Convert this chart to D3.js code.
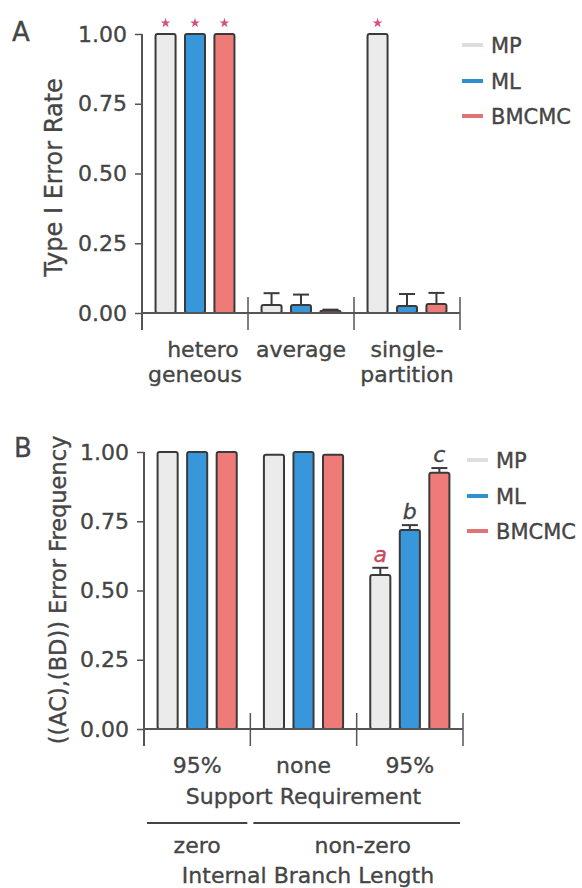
<!DOCTYPE html>
<html>
<head>
<meta charset="utf-8">
<script src="https://cdn.jsdelivr.net/npm/d3@7"></script>
<style>
  body { margin: 0; background: #fff; }
  svg text { font-family: "DejaVu Sans", sans-serif; fill: #454545; stroke: #454545; stroke-width: 0.35px; }
</style>
</head>
<body>
<svg id="chart" width="582" height="888"></svg>
<script>
// ---- data ----
const methods = ["MP", "ML", "BMCMC"];
const methodColors = ["#ebebeb", "#3797da", "#ef7b78"];
const legendColors = ["#dedede", "#2f8fd0", "#e07474"];

// panel A: Type I error rate
const groupsA = ["heterogeneous", "average", "single-partition"];
const labelsA = [["hetero", "geneous"], ["average"], ["single-", "partition"]];
const valuesA = {
  MP:    [1.00, 0.029, 1.00],
  ML:    [1.00, 0.029, 0.025],
  BMCMC: [1.00, 0.008, 0.032]
};
const errorsA = {
  MP:    [null, 0.042, null],
  ML:    [null, 0.037, 0.043],
  BMCMC: [null, 0.004, 0.040]
};
const starsA = [["heterogeneous", "MP"], ["heterogeneous", "ML"], ["heterogeneous", "BMCMC"], ["single-partition", "MP"]];

// panel B: ((AC),(BD)) error frequency
const groupsB = ["zero-95", "nonzero-none", "nonzero-95"];
const labelsB = ["95%", "none", "95%"];
const valuesB = {
  MP:    [1.00, 0.99, 0.556],
  ML:    [1.00, 1.00, 0.718],
  BMCMC: [1.00, 0.99, 0.925]
};
const errorsB = {
  MP:    [null, null, 0.026],
  ML:    [null, null, 0.018],
  BMCMC: [null, null, 0.017]
};
const lettersB = [["nonzero-95", "MP", "a"], ["nonzero-95", "ML", "b"], ["nonzero-95", "BMCMC", "c"]];
const yTicks = [0, 0.25, 0.5, 0.75, 1];

const svg = d3.select("#chart");
const color = d3.scaleOrdinal(methods, methodColors);
const legendColor = d3.scaleOrdinal(methods, legendColors);

function drawPanel(cfg) {
  const g = svg.append("g");
  const y = d3.scaleLinear().domain([0, 1]).range([cfg.bottom, cfg.top]);
  const x = d3.scaleBand().domain(cfg.groups).range([cfg.left, cfg.right]);
  const xInner = d3.scaleBand().domain(methods).range([0, x.bandwidth()])
    .paddingInner(0.32).paddingOuter(0.46);

  // y axis
  const yAxis = g.append("g")
    .attr("transform", `translate(${cfg.left},0)`)
    .call(d3.axisLeft(y).tickValues(yTicks).tickFormat(d3.format(".2f")).tickSize(7).tickPadding(8));
  yAxis.select(".domain").remove();
  yAxis.selectAll(".tick line").attr("stroke", "#555").attr("stroke-width", 1.5);
  yAxis.selectAll(".tick text").style("font-size", "22px").attr("fill", "#454545");
  g.append("line")
    .attr("x1", cfg.left).attr("x2", cfg.left)
    .attr("y1", y(1)).attr("y2", cfg.bottom + 17)
    .attr("stroke", "#555").attr("stroke-width", 2);

  // bars
  const rows = [];
  cfg.groups.forEach((grp, i) => methods.forEach(m => {
    rows.push({ grp, m, v: cfg.values[m][i], e: cfg.errors[m][i] });
  }));
  const barX = d => x(d.grp) + xInner(d.m);

  // error bars (drawn behind bars)
  const errRows = rows.filter(d => d.e != null);
  g.selectAll(".err-stem").data(errRows).join("line")
    .attr("x1", d => barX(d) + xInner.bandwidth() / 2)
    .attr("x2", d => barX(d) + xInner.bandwidth() / 2)
    .attr("y1", d => y(d.v)).attr("y2", d => y(d.v + d.e))
    .attr("stroke", "#3a3a3a").attr("stroke-width", 2);
  g.selectAll(".err-cap").data(errRows).join("line")
    .attr("x1", d => barX(d) + xInner.bandwidth() / 2 - 8)
    .attr("x2", d => barX(d) + xInner.bandwidth() / 2 + 8)
    .attr("y1", d => y(d.v + d.e)).attr("y2", d => y(d.v + d.e))
    .attr("stroke", "#3a3a3a").attr("stroke-width", 2);

  g.selectAll(".bar").data(rows).join("rect")
    .attr("x", barX)
    .attr("y", d => y(d.v))
    .attr("width", xInner.bandwidth())
    .attr("height", d => Math.max(0, y(0) - y(d.v)))
    .attr("rx", 2)
    .attr("fill", d => color(d.m))
    .attr("stroke", "#3a3a3a").attr("stroke-width", 2);

  // x baseline and group separators
  g.append("line")
    .attr("x1", cfg.left).attr("x2", cfg.right)
    .attr("y1", cfg.bottom).attr("y2", cfg.bottom)
    .attr("stroke", "#555").attr("stroke-width", 2);
  const seps = cfg.groups.slice(1).map(d => x(d)).concat([cfg.right]);
  g.selectAll(".sep").data(seps).join("line")
    .attr("x1", d => d).attr("x2", d => d)
    .attr("y1", cfg.bottom - 16).attr("y2", cfg.bottom + 17)
    .attr("stroke", "#555").attr("stroke-width", 1.5);

  // y label
  g.append("text")
    .attr("transform", `translate(${cfg.ylabelX},${(cfg.ylabelTop + cfg.ylabelBottom) / 2}) rotate(-90)`)
    .attr("text-anchor", "middle")
    .style("font-size", cfg.ylabelSize + "px")
    .text(cfg.ylabel);

  // panel letter
  g.append("text")
    .attr("x", cfg.letterX).attr("y", cfg.letterY)
    .style("font-size", "26px")
    .text(cfg.letter);

  // legend
  const leg = g.selectAll(".legend").data(methods).join("g")
    .attr("transform", (d, i) => `translate(${cfg.legendX},${cfg.legendY[i]})`);
  leg.append("line")
    .attr("x1", 0).attr("x2", 21)
    .attr("stroke", d => legendColor(d)).attr("stroke-width", 4);
  leg.append("text")
    .attr("x", 29).attr("dy", "0.36em")
    .style("font-size", "21px")
    .text(d => d);

  return { g, x, xInner, y };
}

// ---- panel A ----
const A = drawPanel({
  groups: groupsA, values: valuesA, errors: errorsA,
  left: 142, right: 460, top: 34, bottom: 313,
  ylabel: "Type I Error Rate", ylabelX: 62, ylabelTop: 75, ylabelBottom: 280, ylabelSize: 24,
  letter: "A", letterX: 12, letterY: 41,
  legendX: 462, legendY: [45, 81, 116]
});

A.g.selectAll(".star").data(starsA).join("path")
  .attr("d", d3.symbol(d3.symbolStar, 30))
  .attr("transform", d => `translate(${A.x(d[0]) + A.xInner(d[1]) + A.xInner.bandwidth() / 2},${A.y(1) - 11})`)
  .attr("fill", "#d4507a");

A.g.selectAll(".xlab").data(groupsA).join("text")
  .attr("text-anchor", "middle")
  .style("font-size", "22px")
  .each(function (d, i) {
    const t = d3.select(this);
    labelsA[i].forEach((line, j) => {
      t.append("tspan")
        .attr("x", A.x(d) + A.x.bandwidth() / 2 + (i === 0 && j === 0 ? 8 : 0))
        .attr("y", 357 + j * 25)
        .text(line);
    });
  });

// ---- panel B ----
const B = drawPanel({
  groups: groupsB, values: valuesB, errors: errorsB,
  left: 144, right: 463, top: 452, bottom: 729,
  ylabel: "((AC),(BD)) Error Frequency", ylabelX: 66, ylabelTop: 428, ylabelBottom: 752, ylabelSize: 22.5,
  letter: "B", letterX: 14, letterY: 457,
  legendX: 467, legendY: [460, 496, 531]
});

B.g.selectAll(".sig").data(lettersB).join("text")
  .attr("x", d => B.x(d[0]) + B.xInner(d[1]) + B.xInner.bandwidth() / 2)
  .attr("y", d => B.y(valuesB[d[1]][groupsB.indexOf(d[0])] + errorsB[d[1]][groupsB.indexOf(d[0])]) - 6)
  .attr("text-anchor", "middle")
  .style("font-size", "22px")
  .style("font-style", "italic")
  .style("fill", d => d[2] === "a" ? "#c8485e" : "#454545")
  .style("stroke", d => d[2] === "a" ? "#c8485e" : "#454545")
  .text(d => d[2]);

B.g.selectAll(".xlab").data(groupsB).join("text")
  .attr("x", d => B.x(d) + B.x.bandwidth() / 2)
  .attr("y", 773)
  .attr("text-anchor", "middle")
  .style("font-size", "22px")
  .text((d, i) => labelsB[i]);

B.g.append("text")
  .attr("x", (144 + 463) / 2).attr("y", 804)
  .attr("text-anchor", "middle")
  .style("font-size", "22px")
  .text("Support Requirement");

// branch length grouping
const branchGroups = [
  { name: "zero", from: "zero-95", to: "zero-95" },
  { name: "non-zero", from: "nonzero-none", to: "nonzero-95" }
];
branchGroups.forEach(bg => {
  const x0 = B.x(bg.from) + 3, x1 = B.x(bg.to) + B.x.bandwidth() - 3;
  B.g.append("line")
    .attr("x1", x0).attr("x2", x1)
    .attr("y1", 823).attr("y2", 823)
    .attr("stroke", "#444").attr("stroke-width", 2);
  B.g.append("text")
    .attr("x", (x0 + x1) / 2 + (bg.name === "non-zero" ? 6 : 0)).attr("y", 853)
    .attr("text-anchor", "middle")
    .style("font-size", "22px")
    .text(bg.name);
});

B.g.append("text")
  .attr("x", 308).attr("y", 883)
  .attr("text-anchor", "middle")
  .style("font-size", "22px")
  .text("Internal Branch Length");
</script>
</body>
</html>
